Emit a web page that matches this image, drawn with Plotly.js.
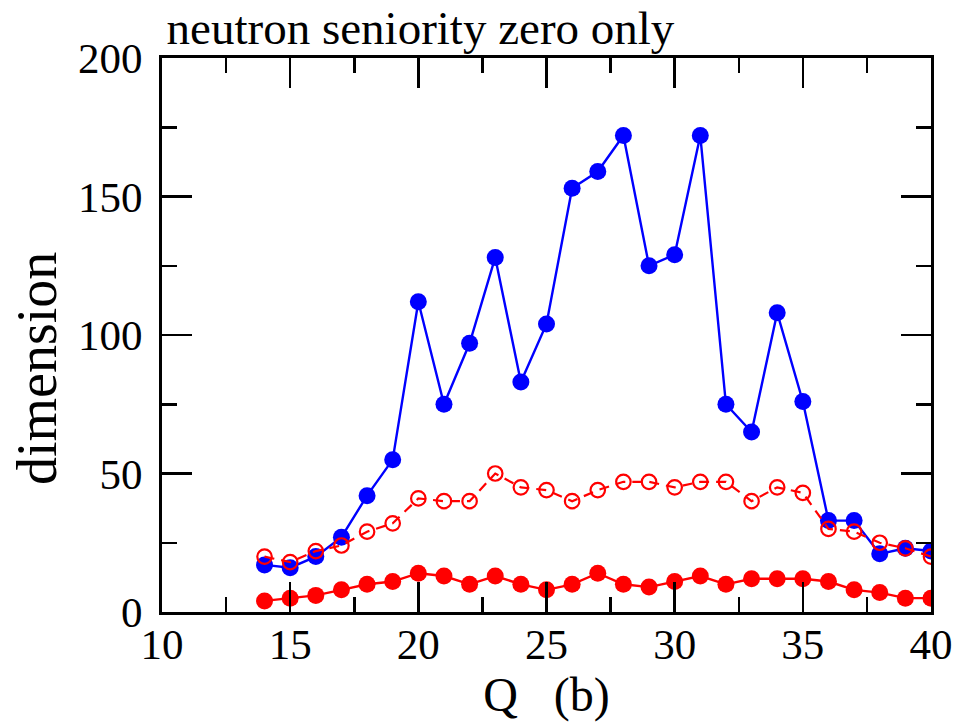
<!DOCTYPE html>
<html>
<head>
<meta charset="utf-8">
<script src="https://cdn.plot.ly/plotly-3.0.1.min.js"></script>
<style>html,body{margin:0;padding:0;background:#fff;}#chart{width:978px;height:728px;}</style>
</head>
<body>
<div id="chart"></div>
<script>
const Q = [14,15,16,17,18,19,20,21,22,23,24,25,26,27,28,29,30,31,32,33,34,35,36,37,38,39,40];
const blueFilled = [17,16,20,27,42,55,112,75,97,128,83,104,153,159,172,125,129,172,75,65,108,76,33,33,21,23,22];
const redOpen = [20,18,22,24,29,32,41,40,40,50,45,44,40,44,47,47,45,47,47,40,45,43,30,29,25,23,20];
const redFilled = [4,5,6,8,10,11,14,13,10,13,10,8,10,14,10,9,11,13,10,12,12,12,11,8,7,5,5];
const titleText = "neutron seniority zero only";
const xTitle = "Q\u00a0\u00a0\u00a0(b)";
const yTitle = "dimension";

const FONT = "Liberation Serif, Times New Roman, serif";

const traces = [
  {x: Q, y: blueFilled, type: 'scatter', mode: 'lines+markers',
   line: {color: '#0000ff', width: 2.4},
   marker: {color: '#0000ff', size: 17, symbol: 'circle'}},
  {x: Q, y: redOpen, type: 'scatter', mode: 'lines+markers',
   line: {color: '#ff0000', width: 2.2, dash: '10px,7px'},
   marker: {color: '#ff0000', size: 14.5, symbol: 'circle-open', line: {color: '#ff0000', width: 2.2}}},
  {x: Q, y: redFilled, type: 'scatter', mode: 'lines+markers',
   line: {color: '#ff0000', width: 2.4},
   marker: {color: '#ff0000', size: 17, symbol: 'circle'}}
];

const axisCommon = {
  showline: true, linecolor: '#000', linewidth: 3, mirror: 'ticks',
  ticks: 'inside', ticklen: 30, tickwidth: 2.5, tickcolor: '#000',
  showgrid: false, zeroline: false,
  tickfont: {family: FONT, size: 43, color: '#000'}
};

const layout = {
  width: 978, height: 728,
  margin: {l: 162, r: 47, t: 58, b: 116},
  paper_bgcolor: '#fff', plot_bgcolor: '#fff',
  showlegend: false,
  font: {family: FONT, color: '#000'},
  title: {text: titleText, font: {family: FONT, size: 47, color: '#000'},
          xref: 'paper', x: 0.006, xanchor: 'left',
          yref: 'container', y: 1 - 28/728, yanchor: 'middle'},
  xaxis: Object.assign({}, axisCommon, {
    range: [10, 40], dtick: 5, tick0: 10,
    minor: {dtick: 2.5, ticklen: 15, tickwidth: 2.5, tickcolor: '#000', ticks: 'inside'},
    title: {text: xTitle, font: {family: FONT, size: 48, color: '#000'}, standoff: 4},
    ticklabelstandoff: -8
  }),
  yaxis: Object.assign({}, axisCommon, {
    range: [0, 200], dtick: 50, tick0: 0,
    minor: {dtick: 25, ticklen: 15, tickwidth: 2.5, tickcolor: '#000', ticks: 'inside'},
    ticklabelstandoff: 8
  }),
  annotations: [
    {text: yTitle, xref: 'paper', yref: 'paper', showarrow: false, textangle: -90,
     x: (37 - 162) / 769, y: (612 - 369) / 554, xanchor: 'center', yanchor: 'middle',
     font: {family: FONT, size: 56, color: '#000'}}
  ]
};

Plotly.newPlot('chart', traces, layout, {staticPlot: true, displayModeBar: false});
</script>
</body>
</html>
